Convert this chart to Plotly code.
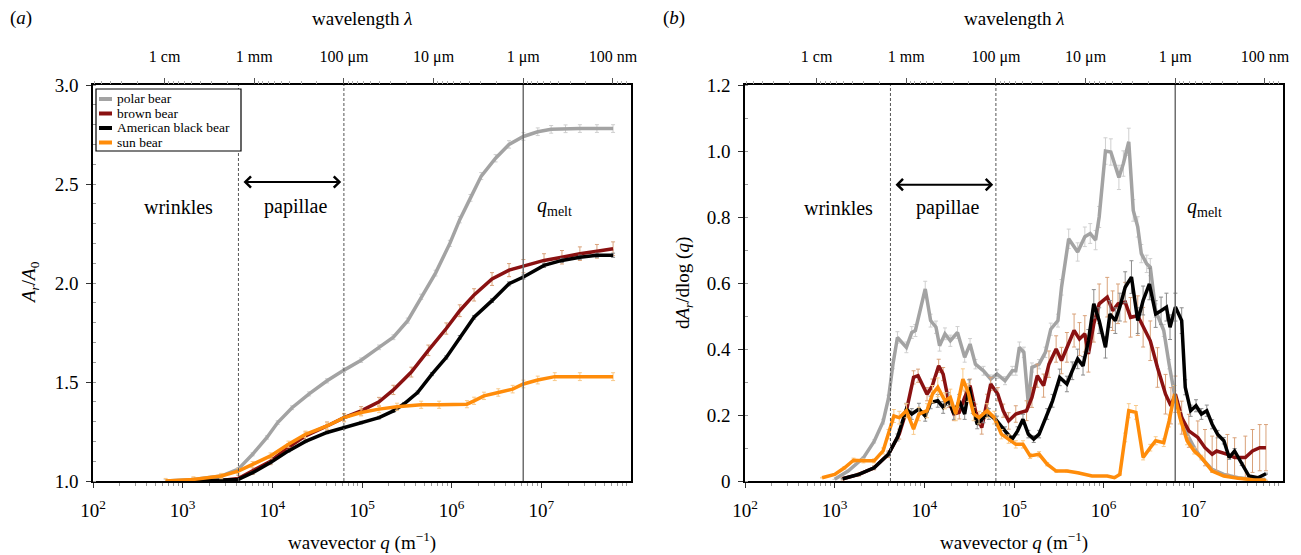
import math
import plotly.graph_objects as go

# ---------------- data ----------------
# panel (a): cumulative area ratio A_r/A_0 versus log10(q)
POLAR_A_LOGQ = [2.81, 3.12, 3.43, 3.62, 3.78, 3.94, 4.06, 4.22, 4.41, 4.61, 4.80, 4.99, 5.19, 5.35,
                5.51, 5.66, 5.82, 5.98, 6.09, 6.21, 6.33, 6.49, 6.64, 6.80, 6.96, 7.11, 7.27, 7.43, 7.62, 7.80]
POLAR_A = [1.000, 1.008, 1.025, 1.060, 1.135, 1.220, 1.295, 1.370, 1.440, 1.506, 1.560, 1.610, 1.675, 1.726,
           1.810, 1.930, 2.050, 2.200, 2.320, 2.430, 2.540, 2.630, 2.700, 2.740, 2.764, 2.776, 2.779, 2.780, 2.780, 2.780]

BROWN_A_LOGQ = [3.12, 3.43, 3.62, 3.78, 3.98, 4.18, 4.37, 4.61, 4.80, 4.99, 5.19, 5.35, 5.55, 5.74,
                5.94, 6.09, 6.25, 6.45, 6.64, 6.80, 7.03, 7.23, 7.43, 7.62, 7.80]
BROWN_A = [1.000, 1.003, 1.013, 1.050, 1.100, 1.170, 1.228, 1.278, 1.320, 1.354, 1.400, 1.460, 1.550, 1.660,
           1.770, 1.860, 1.940, 2.020, 2.065, 2.085, 2.114, 2.130, 2.148, 2.160, 2.173]

BLACK_A_LOGQ = [3.12, 3.62, 3.78, 3.98, 4.18, 4.37, 4.61, 4.80, 4.99, 5.19, 5.35, 5.47, 5.62, 5.78,
                5.94, 6.09, 6.25, 6.45, 6.64, 6.80, 7.03, 7.23, 7.43, 7.62, 7.80]
BLACK_A = [1.000, 1.008, 1.042, 1.093, 1.152, 1.200, 1.245, 1.270, 1.295, 1.320, 1.354, 1.390, 1.447, 1.540,
           1.624, 1.726, 1.827, 1.911, 1.996, 2.030, 2.089, 2.114, 2.130, 2.140, 2.140]

SUN_A_LOGQ = [2.81, 3.12, 3.43, 3.62, 3.78, 3.98, 4.18, 4.37, 4.61, 4.80, 4.99, 5.19, 5.39, 5.66,
              5.86, 6.17, 6.25, 6.36, 6.52, 6.68, 6.80, 6.96, 7.15, 7.43, 7.80]
SUN_A = [1.000, 1.008, 1.025, 1.050, 1.084, 1.127, 1.186, 1.236, 1.278, 1.320, 1.346, 1.363, 1.375, 1.385,
         1.385, 1.388, 1.405, 1.430, 1.447, 1.464, 1.490, 1.510, 1.527, 1.527, 1.527]

# panel (b): dA_r/dlog(q) versus log10(q)
POLAR_B_LOGQ = [3.00, 3.15, 3.32, 3.44, 3.54, 3.60, 3.65, 3.70, 3.80, 3.86, 3.90, 4.01, 4.07, 4.13, 4.17,
                4.23, 4.29, 4.37, 4.45, 4.51, 4.57, 4.66, 4.74, 4.81, 4.90, 4.98, 5.02, 5.06, 5.11, 5.16,
                5.20, 5.28, 5.35, 5.41, 5.49, 5.53, 5.61, 5.71, 5.79, 5.85, 5.91, 5.95, 6.02, 6.08, 6.17,
                6.22, 6.28, 6.33, 6.38, 6.42, 6.48, 6.52, 6.58, 6.67, 6.73, 6.79, 6.85, 6.93, 7.01, 7.09,
                7.21, 7.34, 7.50, 7.66, 7.80]
POLAR_B = [0.005, 0.030, 0.070, 0.120, 0.180, 0.250, 0.354, 0.435, 0.405, 0.450, 0.456, 0.582, 0.486, 0.466,
           0.410, 0.446, 0.425, 0.450, 0.375, 0.415, 0.354, 0.334, 0.309, 0.324, 0.304, 0.334, 0.334, 0.405,
           0.390, 0.233, 0.344, 0.354, 0.390, 0.460, 0.486, 0.587, 0.734, 0.694, 0.740, 0.750, 0.730, 0.800,
           1.000, 0.997, 0.920, 0.962, 1.028, 0.820, 0.770, 0.689, 0.658, 0.648, 0.516, 0.456, 0.354, 0.263,
           0.213, 0.142, 0.101, 0.070, 0.035, 0.020, 0.010, 0.005, 0.005]

BROWN_B_LOGQ = [3.09, 3.27, 3.44, 3.60, 3.72, 3.80, 3.88, 3.93, 4.03, 4.09, 4.16, 4.21, 4.27, 4.33, 4.39,
                4.45, 4.51, 4.57, 4.64, 4.70, 4.74, 4.82, 4.88, 4.94, 5.02, 5.14, 5.20, 5.26, 5.33, 5.39,
                5.47, 5.53, 5.59, 5.67, 5.73, 5.79, 5.83, 5.89, 5.95, 6.04, 6.10, 6.16, 6.24, 6.30, 6.38,
                6.44, 6.52, 6.60, 6.69, 6.75, 6.80, 6.87, 6.95, 7.05, 7.13, 7.21, 7.26, 7.38, 7.46, 7.58,
                7.66, 7.74, 7.81]
BROWN_B = [0.007, 0.020, 0.040, 0.081, 0.142, 0.213, 0.314, 0.319, 0.263, 0.289, 0.349, 0.324, 0.243, 0.203,
           0.208, 0.253, 0.289, 0.213, 0.162, 0.243, 0.294, 0.263, 0.213, 0.182, 0.203, 0.213, 0.253, 0.319,
           0.289, 0.354, 0.400, 0.365, 0.405, 0.456, 0.430, 0.446, 0.385, 0.476, 0.537, 0.557, 0.516, 0.537,
           0.542, 0.496, 0.501, 0.466, 0.425, 0.344, 0.263, 0.228, 0.263, 0.192, 0.152, 0.132, 0.101, 0.081,
           0.091, 0.081, 0.071, 0.071, 0.091, 0.101, 0.101]
BROWN_B_ERR = [0.004, 0.005, 0.006, 0.010, 0.015, 0.020, 0.020, 0.020, 0.020, 0.020, 0.020, 0.020, 0.020, 0.020,
               0.020, 0.020, 0.020, 0.020, 0.020, 0.020, 0.020, 0.020, 0.020, 0.025, 0.025, 0.030, 0.030, 0.035,
               0.035, 0.040, 0.040, 0.040, 0.045, 0.050, 0.050, 0.055, 0.055, 0.055, 0.060, 0.060, 0.060, 0.060,
               0.060, 0.060, 0.060, 0.060, 0.060, 0.060, 0.060, 0.055, 0.055, 0.050, 0.050, 0.050, 0.055, 0.055,
               0.060, 0.060, 0.060, 0.065, 0.065, 0.070, 0.070]

BLACK_B_LOGQ = [3.09, 3.27, 3.44, 3.60, 3.70, 3.80, 3.86, 3.94, 4.01, 4.07, 4.15, 4.21, 4.27, 4.33, 4.39,
                4.45, 4.50, 4.54, 4.59, 4.66, 4.72, 4.81, 4.90, 4.98, 5.04, 5.10, 5.16, 5.22, 5.28, 5.37,
                5.43, 5.51, 5.59, 5.65, 5.71, 5.77, 5.83, 5.89, 5.95, 6.02, 6.07, 6.13, 6.18, 6.24, 6.31,
                6.38, 6.44, 6.51, 6.58, 6.64, 6.70, 6.74, 6.80, 6.87, 6.91, 6.97, 7.03, 7.09, 7.15, 7.21,
                7.27, 7.34, 7.40, 7.46, 7.54, 7.62, 7.72, 7.81]
BLACK_B = [0.007, 0.020, 0.040, 0.081, 0.132, 0.218, 0.203, 0.218, 0.197, 0.238, 0.243, 0.223, 0.248, 0.203,
           0.243, 0.203, 0.284, 0.223, 0.172, 0.192, 0.203, 0.182, 0.152, 0.127, 0.152, 0.187, 0.142, 0.127,
           0.142, 0.203, 0.243, 0.314, 0.294, 0.334, 0.370, 0.349, 0.425, 0.537, 0.486, 0.405, 0.506, 0.486,
           0.527, 0.587, 0.618, 0.486, 0.547, 0.597, 0.506, 0.516, 0.527, 0.466, 0.527, 0.486, 0.284, 0.213,
           0.228, 0.203, 0.213, 0.172, 0.142, 0.122, 0.071, 0.091, 0.051, 0.015, 0.010, 0.022]

SUN_B_LOGQ = [2.86, 3.00, 3.11, 3.21, 3.32, 3.44, 3.54, 3.60, 3.66, 3.72, 3.80, 3.88, 3.94, 4.03, 4.09,
              4.15, 4.23, 4.29, 4.35, 4.43, 4.49, 4.55, 4.61, 4.70, 4.78, 4.86, 4.94, 5.02, 5.10, 5.18,
              5.28, 5.37, 5.47, 5.59, 5.71, 5.87, 6.04, 6.12, 6.18, 6.24, 6.28, 6.36, 6.44, 6.52, 6.58,
              6.67, 6.73, 6.79, 6.85, 6.93, 7.01, 7.09, 7.21, 7.34, 7.50, 7.66, 7.81]
SUN_B = [0.010, 0.020, 0.040, 0.063, 0.061, 0.061, 0.091, 0.142, 0.197, 0.192, 0.213, 0.157, 0.203, 0.213,
         0.263, 0.284, 0.243, 0.253, 0.203, 0.309, 0.268, 0.203, 0.192, 0.213, 0.192, 0.142, 0.127, 0.111,
         0.111, 0.076, 0.081, 0.051, 0.030, 0.030, 0.025, 0.015, 0.015, 0.010, 0.020, 0.132, 0.213, 0.208,
         0.071, 0.101, 0.122, 0.116, 0.182, 0.263, 0.192, 0.122, 0.091, 0.071, 0.030, 0.015, 0.008, 0.004,
         0.002]

SERIES_NAMES = ["polar bear", "brown bear", "American black bear", "sun bear"]
LINE_COLORS = ["#a3a3a3", "#8a1111", "#000000", "#ff8c0a"]
ERR_COLORS = ["#cfcfcf", "#d9a27a", "#8c8c8c", "#f8c98a"]

# reference lines (q = 2*pi/lambda)
Q_WRINKLE_LIMIT = 2 * math.pi / 1.5e-3
Q_PAPILLAE_LIMIT = 2 * math.pi / 1.0e-4
Q_MELT = 2 * math.pi / 1.0e-6

BOTTOM_TICKS = [1e2, 1e3, 1e4, 1e5, 1e6, 1e7]
BOTTOM_LABELS = ["10<sup>2</sup>", "10<sup>3</sup>", "10<sup>4</sup>", "10<sup>5</sup>", "10<sup>6</sup>", "10<sup>7</sup>"]
WAVELENGTHS = [1e-2, 1e-3, 1e-4, 1e-5, 1e-6, 1e-7]
WAVELENGTH_LABELS = ["1 cm", "1 mm", "100 μm", "10 μm", "1 μm", "100 nm"]

FONT = "Liberation Serif"
W, H = 1301, 555


def px(x):
    return x / W


def py(y):
    return 1 - y / H


def q_of(logs):
    return [10 ** v for v in logs]


fig = go.Figure()

panel_a = [(POLAR_A_LOGQ, POLAR_A, 0.7), (BROWN_A_LOGQ, BROWN_A, 1.6),
           (BLACK_A_LOGQ, BLACK_A, 0.5), (SUN_A_LOGQ, SUN_A, 1.3)]
for i, (lq, vals, pct) in enumerate(panel_a):
    fig.add_trace(go.Scatter(
        x=q_of(lq), y=vals, mode="lines", name=SERIES_NAMES[i],
        line=dict(color=LINE_COLORS[i], width=3.5),
        error_y=dict(type="percent", value=pct, color=ERR_COLORS[i], thickness=1, width=2),
        xaxis="x", yaxis="y", showlegend=False, hoverinfo="skip"))

panel_b = [(POLAR_B_LOGQ, POLAR_B, dict(type="percent", value=4)),
           (BROWN_B_LOGQ, BROWN_B, dict(type="data", array=BROWN_B_ERR)),
           (BLACK_B_LOGQ, BLACK_B, dict(type="percent", value=8)),
           (SUN_B_LOGQ, SUN_B, dict(type="percent", value=10))]
for i, (lq, vals, err) in enumerate(panel_b):
    err.update(color=ERR_COLORS[i], thickness=1, width=2)
    fig.add_trace(go.Scatter(
        x=q_of(lq), y=vals, mode="lines", name=SERIES_NAMES[i],
        line=dict(color=LINE_COLORS[i], width=3.5), error_y=err,
        xaxis="x2", yaxis="y2", showlegend=False, hoverinfo="skip"))

# vertical marker lines
for xa, ya, (y0, y1) in [("x", "y", (1.0, 3.0)), ("x2", "y2", (0.0, 1.2))]:
    for qv, dash, col, wd in [(Q_WRINKLE_LIMIT, "3px,2px", "#555555", 1),
                              (Q_PAPILLAE_LIMIT, "3px,2px", "#555555", 1),
                              (Q_MELT, "solid", "#6e6e6e", 1.5)]:
        fig.add_trace(go.Scatter(x=[qv, qv], y=[y0, y1], mode="lines",
                                 line=dict(color=col, width=wd, dash=dash),
                                 xaxis=xa, yaxis=ya, showlegend=False, hoverinfo="skip"))

# invisible traces to carry the top (wavelength) axes
fig.add_trace(go.Scatter(x=[1e2, 1e8], y=[1.0, 1.0], mode="markers", marker=dict(opacity=0),
                         xaxis="x3", yaxis="y", showlegend=False, hoverinfo="skip"))
fig.add_trace(go.Scatter(x=[1e2, 1e8], y=[0.0, 0.0], mode="markers", marker=dict(opacity=0),
                         xaxis="x4", yaxis="y2", showlegend=False, hoverinfo="skip"))

XDOM_A = [px(93), px(631)]
XDOM_B = [px(745), px(1283)]
YDOM = [py(481), py(85)]

minor_q = [k * 10 ** n for n in range(2, 8) for k in range(2, 10)]
minor_lam = [2 * math.pi / (k * 10 ** n) for n in range(-8, -1) for k in range(2, 10)]
top_ticks = [2 * math.pi / lam for lam in WAVELENGTHS]


def bottom_axis(domain, anchor):
    return dict(type="log", range=[2, 8], domain=domain, anchor=anchor, automargin=False,
                tickmode="array", tickvals=BOTTOM_TICKS, ticktext=BOTTOM_LABELS,
                ticks="outside", ticklen=5, tickcolor="#333", tickwidth=1,
                minor=dict(tickmode="array", tickvals=minor_q, ticks="outside", ticklen=3,
                           tickcolor="#999", showgrid=False),
                showline=True, linecolor="black", linewidth=1.5, mirror=True,
                showgrid=False, zeroline=False, ticklabelstandoff=6,
                tickfont=dict(family=FONT, size=19, color="black"))


def top_axis(over, anchor):
    return dict(type="log", range=[2, 8], overlaying=over, anchor=anchor, side="top",
                automargin=False,
                tickmode="array", tickvals=top_ticks, ticktext=WAVELENGTH_LABELS,
                ticks="outside", ticklen=6, tickcolor="#555", tickwidth=1,
                minor=dict(tickmode="array", tickvals=minor_lam, ticks="outside", ticklen=3,
                           tickcolor="#aaa", showgrid=False),
                showline=False, showgrid=False, zeroline=False, ticklabelstandoff=10,
                tickfont=dict(family=FONT, size=16, color="black"))


def left_axis(rng, dtick, minor_dtick, fmt, anchor):
    return dict(range=rng, domain=YDOM, anchor=anchor, dtick=dtick, tick0=rng[0],
                automargin=False,
                tickformat=fmt, ticks="outside", ticklen=5, tickcolor="#333",
                minor=dict(dtick=minor_dtick, ticks="inside", ticklen=3, tickcolor="#999",
                           showgrid=False),
                showline=True, linecolor="black", linewidth=1.5, mirror=True,
                showgrid=False, zeroline=False, ticklabelstandoff=4,
                tickfont=dict(family=FONT, size=19, color="black"))


yaxis_b = left_axis([0, 1.2], 0.2, 0.1, "", "x2")
yaxis_b["tickmode"] = "array"
yaxis_b["tickvals"] = [0, 0.2, 0.4, 0.6, 0.8, 1.0, 1.2]
yaxis_b["ticktext"] = ["0", "0.2", "0.4", "0.6", "0.8", "1.0", "1.2"]

fig.update_layout(
    width=W, height=H, margin=dict(l=0, r=0, t=0, b=0, autoexpand=False),
    paper_bgcolor="white", plot_bgcolor="white",
    font=dict(family=FONT, color="black"),
    xaxis=bottom_axis(XDOM_A, "y"),
    xaxis2=bottom_axis(XDOM_B, "y2"),
    xaxis3=top_axis("x", "y"),
    xaxis4=top_axis("x2", "y2"),
    yaxis=left_axis([1.0, 3.0], 0.5, 0.1, ".1f", "x"),
    yaxis2=yaxis_b,
    showlegend=False,
)

ann = []
shapes = []

# legend drawn as a small framed key in panel (a)
shapes.append(dict(type="rect", xref="paper", yref="paper", x0=px(96), x1=px(241),
                   y0=py(151), y1=py(89), line=dict(color="black", width=1.2),
                   fillcolor="white", layer="above"))
for i, name in enumerate(SERIES_NAMES):
    yy = 99 + i * 14.5
    shapes.append(dict(type="line", xref="paper", yref="paper", x0=px(99), x1=px(112),
                       y0=py(yy), y1=py(yy), line=dict(color=LINE_COLORS[i], width=4),
                       layer="above"))
    ann.append(dict(text=name, x=px(115), y=py(yy), xref="paper", yref="paper",
                    xanchor="left", yanchor="middle", showarrow=False,
                    font=dict(size=13.5, family=FONT)))

# panel letters and axis titles
ann.append(dict(text="(<i>a</i>)", x=px(8), y=py(18), xref="paper", yref="paper",
                xanchor="left", yanchor="middle", showarrow=False, font=dict(size=19)))
ann.append(dict(text="(<i>b</i>)", x=px(661), y=py(18), xref="paper", yref="paper",
                xanchor="left", yanchor="middle", showarrow=False, font=dict(size=19)))
for cx in [362, 1014]:
    ann.append(dict(text="wavelength <i>λ</i>", x=px(cx), y=py(18), xref="paper", yref="paper",
                    xanchor="center", yanchor="middle", showarrow=False, font=dict(size=19)))
    ann.append(dict(text="wavevector <i>q</i> (m<sup>−1</sup>)", x=px(cx), y=py(541),
                    xref="paper", yref="paper", xanchor="center", yanchor="middle",
                    showarrow=False, font=dict(size=19)))
ann.append(dict(text="<i>A</i><sub><i>r</i></sub>/<i>A</i><sub>0</sub>", x=px(30), y=py(283),
                xref="paper", yref="paper", xanchor="center", yanchor="middle",
                textangle=-90, showarrow=False, font=dict(size=19)))
ann.append(dict(text="d<i>A</i><sub><i>r</i></sub>/dlog (<i>q</i>)", x=px(684), y=py(283),
                xref="paper", yref="paper", xanchor="center", yanchor="middle",
                textangle=-90, showarrow=False, font=dict(size=19)))

# region labels
for xa, ya, yt, yarr, xw, xp, xm in [("x", "y", 2.385, 2.51, 2.95, 4.26, 7.15),
                                     ("x2", "y2", 0.828, 0.898, 3.04, 4.26, 7.12)]:
    ann.append(dict(text="wrinkles", x=xw, y=yt, xref=xa, yref=ya, showarrow=False,
                    font=dict(size=20)))
    ann.append(dict(text="papillae", x=xp, y=yt, xref=xa, yref=ya, showarrow=False,
                    font=dict(size=20)))
    ann.append(dict(text="<i>q</i><sub>melt</sub>", x=xm, y=yt, xref=xa, yref=ya, showarrow=False,
                    font=dict(size=20)))
    ann.append(dict(text="", x=math.log10(Q_PAPILLAE_LIMIT) - 0.03, y=yarr, xref=xa, yref=ya,
                    ax=math.log10(Q_WRINKLE_LIMIT) + 0.04, ay=yarr, axref=xa, ayref=ya,
                    showarrow=True, arrowhead=4, arrowside="end+start", arrowsize=1.1,
                    arrowwidth=2, arrowcolor="black", standoff=0, startstandoff=0))

fig.update_layout(annotations=ann, shapes=shapes)
fig.write_html("out.html", config={"displayModeBar": False},
               post_script="document.body.style.margin='0';document.body.style.overflow='hidden';")
